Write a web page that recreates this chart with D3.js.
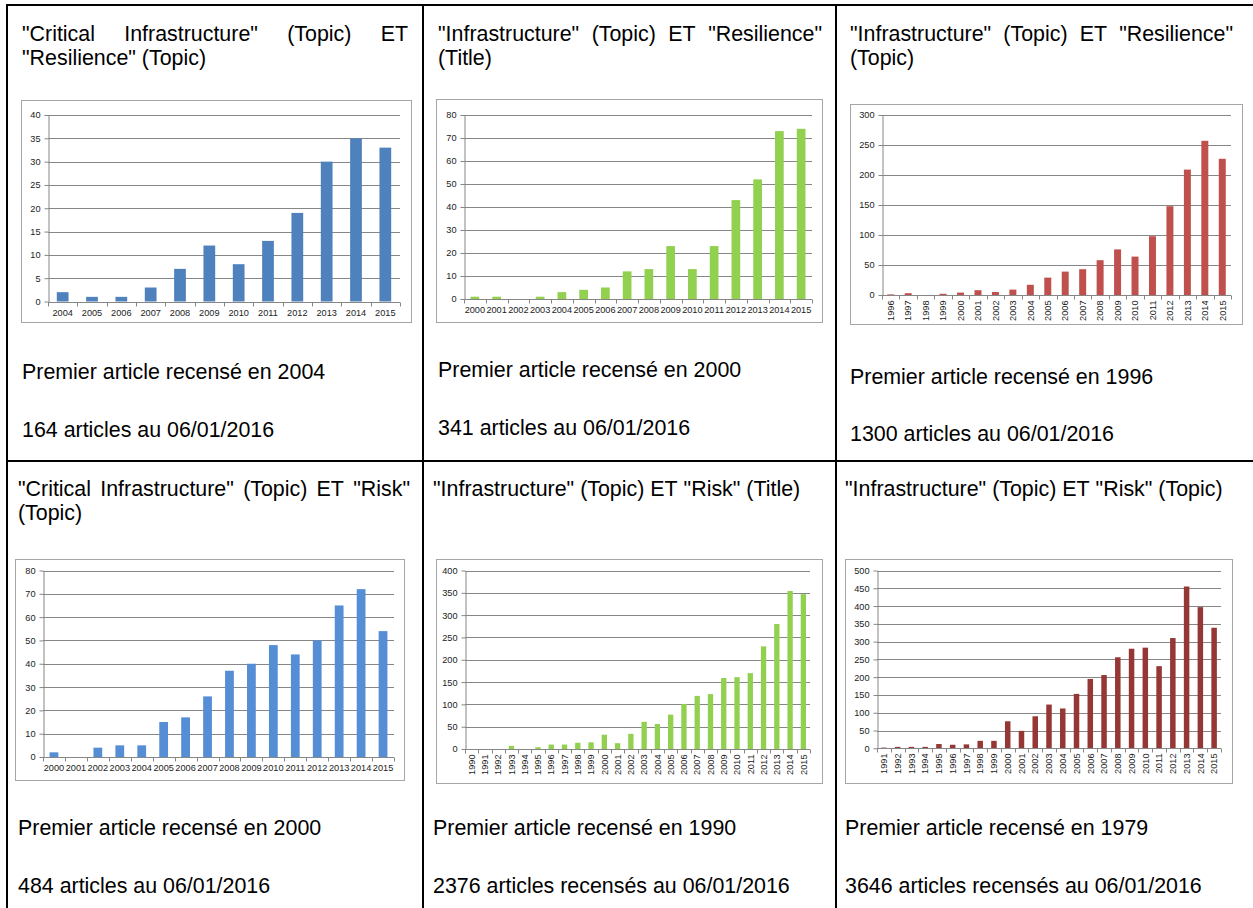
<!DOCTYPE html>
<html><head><meta charset="utf-8">
<script src="https://cdn.jsdelivr.net/npm/d3@7"></script>
<style>body{margin:0;background:#fff}svg{display:block}</style>
</head><body>
<svg id="c" width="1253" height="908"></svg>
<script>
// ---------- DATA ----------
const cats1 = ["2004","2005","2006","2007","2008","2009","2010","2011","2012","2013","2014","2015"];
const vals1 = [2,1,1,3,7,12,8,13,19,30,35,33];
const ticks1 = [0,5,10,15,20,25,30,35,40];

const cats2 = ["2000","2001","2002","2003","2004","2005","2006","2007","2008","2009","2010","2011","2012","2013","2014","2015"];
const vals2 = [1,1,0,1,3,4,5,12,13,23,13,23,43,52,73,74];
const ticks2 = [0,10,20,30,40,50,60,70,80];

const cats3 = ["1996","1997","1998","1999","2000","2001","2002","2003","2004","2005","2006","2007","2008","2009","2010","2011","2012","2013","2014","2015"];
const vals3 = [1,3,0,2,4,8,5,9,17,29,39,43,58,76,64,98,148,209,257,227];
const ticks3 = [0,50,100,150,200,250,300];

const cats4 = ["2000","2001","2002","2003","2004","2005","2006","2007","2008","2009","2010","2011","2012","2013","2014","2015"];
const vals4 = [2,0,4,5,5,15,17,26,37,40,48,44,50,65,72,54];
const ticks4 = [0,10,20,30,40,50,60,70,80];

const cats5 = ["1990","1991","1992","1993","1994","1995","1996","1997","1998","1999","2000","2001","2002","2003","2004","2005","2006","2007","2008","2009","2010","2011","2012","2013","2014","2015"];
const vals5 = [0,0,0,7,0,4,10,10,14,15,32,13,34,61,56,77,101,119,123,159,161,170,230,280,354,347];
const ticks5 = [0,50,100,150,200,250,300,350,400];

const cats6 = ["1991","1992","1993","1994","1995","1996","1997","1998","1999","2000","2001","2002","2003","2004","2005","2006","2007","2008","2009","2010","2011","2012","2013","2014","2015"];
const vals6 = [2,4,4,4,12,10,11,21,21,76,49,90,123,112,153,195,206,256,280,283,231,310,455,397,339];
const ticks6 = [0,50,100,150,200,250,300,350,400,450,500];

const titleLines = [
  ['"Critical Infrastructure" (Topic) ET', '"Resilience" (Topic)'],
  ['"Infrastructure" (Topic) ET "Resilience"', '(Title)'],
  ['"Infrastructure" (Topic) ET "Resilience"', '(Topic)'],
  ['"Critical Infrastructure" (Topic) ET "Risk"', '(Topic)'],
  ['"Infrastructure" (Topic) ET "Risk" (Title)'],
  ['"Infrastructure" (Topic) ET "Risk" (Topic)']
];
const firstLines = [
  "Premier article recensé en 2004",
  "Premier article recensé en 2000",
  "Premier article recensé en 1996",
  "Premier article recensé en 2000",
  "Premier article recensé en 1990",
  "Premier article recensé en 1979"
];
const countLines = [
  "164 articles au 06/01/2016",
  "341 articles au 06/01/2016",
  "1300 articles au 06/01/2016",
  "484 articles au 06/01/2016",
  "2376 articles recensés au 06/01/2016",
  "3646 articles recensés au 06/01/2016"
];

// ---------- LAYOUT ----------
const svg = d3.select("#c");
const FONT = "'Liberation Sans', Arial, sans-serif";
const FS = 21.4;
const panels = [
  {cats:cats1, vals:vals1, ticks:ticks1, color:"#4F81BD", box:[21,100,411,322], plot:[48,115,400,301.5], rot:false,
   tx:22, tr:408, tY:[40.5,65], pY:379, cY:437},
  {cats:cats2, vals:vals2, ticks:ticks2, color:"#92D050", box:[436,99,822,322], plot:[464,115,812,299], rot:false,
   tx:438, tr:822, tY:[40.5,65], pY:377, cY:435},
  {cats:cats3, vals:vals3, ticks:ticks3, color:"#C0504D", box:[850,104,1242,324], plot:[882,115,1231,295], rot:true,
   tx:850, tr:1233, tY:[40.5,65], pY:384, cY:441},
  {cats:cats4, vals:vals4, ticks:ticks4, color:"#558ED5", box:[15,559,404,780], plot:[43,570.5,394,757], rot:false,
   tx:18, tr:410, tY:[496,520], pY:835, cY:893},
  {cats:cats5, vals:vals5, ticks:ticks5, color:"#92D050", box:[436,559,822,783], plot:[465,570.5,810,749], rot:true,
   tx:433, tr:822, tY:[496,520], pY:835, cY:893},
  {cats:cats6, vals:vals6, ticks:ticks6, color:"#953735", box:[845,559,1232,783], plot:[877,570.5,1221,748.3], rot:true,
   tx:845, tr:1233, tY:[496,520], pY:835, cY:893}
];

// table grid
const grid = svg.append("g").attr("stroke","#000").attr("stroke-width",2);
grid.append("line").attr("x1",6).attr("x2",1253).attr("y1",5).attr("y2",5);
grid.append("line").attr("x1",7).attr("x2",7).attr("y1",4).attr("y2",908);
grid.append("line").attr("x1",423).attr("x2",423).attr("y1",4).attr("y2",908);
grid.append("line").attr("x1",836).attr("x2",836).attr("y1",4).attr("y2",908);
grid.append("line").attr("x1",7).attr("x2",1253).attr("y1",461).attr("y2",461);

function justified(words, x0, x1, y, justify) {
  const g = svg.append("g").attr("font-family",FONT).attr("font-size",FS).attr("fill","#000");
  const nodes = words.map(w => g.append("text").attr("y",y).text(w));
  const widths = nodes.map(n => n.node().getComputedTextLength());
  const spaceW = (() => { const t = g.append("text").text("a a"); const t2 = g.append("text").text("aa");
     const s = t.node().getComputedTextLength() - t2.node().getComputedTextLength(); t.remove(); t2.remove(); return s; })();
  const total = d3.sum(widths);
  const gap = justify && words.length > 1 ? (x1 - x0 - total) / (words.length - 1) : spaceW;
  let x = x0;
  nodes.forEach((n,i) => { n.attr("x", x); x += widths[i] + gap; });
}

panels.forEach((p, i) => {
  const lines = titleLines[i];
  lines.forEach((ln, k) => {
    justified(ln.split(" "), p.tx, p.tr, p.tY[k], k < lines.length - 1);
  });
  svg.append("text").attr("x",p.tx).attr("y",p.pY).attr("font-family",FONT).attr("font-size",FS).text(firstLines[i]);
  svg.append("text").attr("x",p.tx).attr("y",p.cY).attr("font-family",FONT).attr("font-size",FS).text(countLines[i]);

  const [bx0,by0,bx1,by1] = p.box;
  svg.append("rect").attr("x",bx0+0.5).attr("y",by0+0.5).attr("width",bx1-bx0).attr("height",by1-by0)
     .attr("fill","#fff").attr("stroke","#a6a6a6").attr("stroke-width",1);

  const [xl,yt,xr,yb] = p.plot;
  const x = d3.scaleBand().domain(p.cats).range([xl,xr]).paddingInner(0.6).paddingOuter(0.3);
  const y = d3.scaleLinear().domain([0, d3.max(p.ticks)]).range([yb,yt]);
  const g = svg.append("g");

  g.append("g").selectAll("line").data(p.ticks.filter(t => t > 0)).join("line")
    .attr("x1",xl).attr("x2",xr).attr("y1",d => Math.round(y(d))+0.5).attr("y2",d => Math.round(y(d))+0.5)
    .attr("stroke","#868686").attr("stroke-width",1);

  g.append("g").selectAll("rect").data(p.vals).join("rect")
    .attr("x",(d,j) => x(p.cats[j])).attr("width",x.bandwidth())
    .attr("y",d => y(d)).attr("height",d => y(0) - y(d))
    .attr("fill",p.color);

  const ya = g.append("g").attr("transform",`translate(${Math.round(xl)+0.5},0)`)
    .call(d3.axisLeft(y).tickValues(p.ticks).tickSize(4).tickPadding(4).tickSizeOuter(0));
  ya.select(".domain").attr("stroke","#868686");
  ya.selectAll(".tick line").attr("stroke","#868686");
  ya.selectAll(".tick text").attr("font-family",FONT).attr("font-size",9.2).attr("fill","#222");

  const y0 = Math.round(y(0)) + 0.5;
  g.append("line").attr("x1",xl).attr("x2",xr).attr("y1",y0).attr("y2",y0).attr("stroke","#868686");
  const step = x.step();
  const bounds = d3.range(p.cats.length + 1).map(k => xl + k * step);
  g.append("g").selectAll("line").data(bounds).join("line")
    .attr("x1",d => Math.round(d)+0.5).attr("x2",d => Math.round(d)+0.5).attr("y1",y0).attr("y2",y0+4)
    .attr("stroke","#868686");
  const lab = g.append("g").attr("font-family",FONT).attr("font-size",9.2).attr("fill","#222");
  if (!p.rot) {
    lab.selectAll("text").data(p.cats).join("text")
      .attr("x",d => x(d) + x.bandwidth()/2).attr("y",y0 + 13.5).attr("text-anchor","middle").text(d => d);
  } else {
    lab.selectAll("text").data(p.cats).join("text")
      .attr("transform",d => `translate(${x(d) + x.bandwidth()/2},${y0 + 5}) rotate(-90)`)
      .attr("text-anchor","end").attr("dy","0.35em").text(d => d);
  }
});
</script>
</body></html>
